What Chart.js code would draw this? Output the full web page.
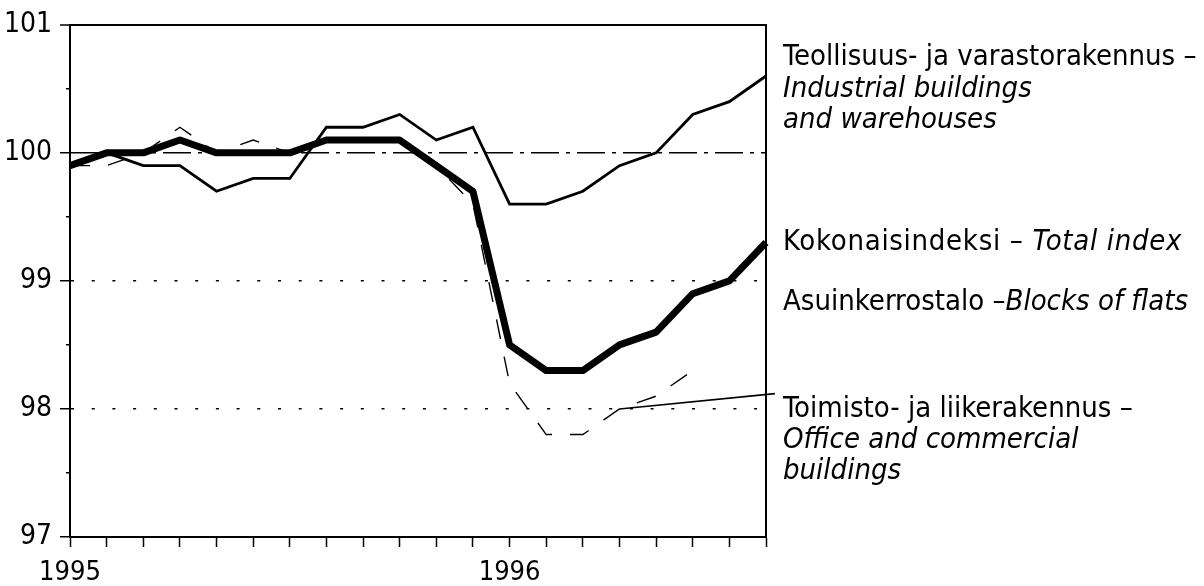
<!DOCTYPE html>
<html>
<head>
<meta charset="utf-8">
<script src="https://cdn.jsdelivr.net/npm/chart.js@4.4.1/dist/chart.umd.min.js"></script>
<style>
  body { margin: 0; background: #fff; }
  #wrap { position: relative; width: 1204px; height: 586px; }
  .lbl {
    position: absolute; left: 783px; color: #000; white-space: nowrap;
    font-family: 'DejaVu Sans Condensed', 'Liberation Sans Narrow', 'Liberation Sans', sans-serif;
    font-size: 29px; line-height: 31px; letter-spacing: 0;
  }
  .lbl i { font-style: italic; }
</style>
</head>
<body>
<div id="wrap">
  <canvas id="chart" width="1204" height="586"></canvas>
  <div class="lbl" style="top:40px; line-height:31.5px">Teollisuus- ja varastorakennus –<br><i>Industrial buildings</i><br><i>and warehouses</i></div>
  <div class="lbl" style="top:225px; letter-spacing:0.7px">Kokonaisindeksi – <i>Total index</i></div>
  <div class="lbl" style="top:285px">Asuinkerrostalo –<i>Blocks of flats</i></div>
  <div class="lbl" style="top:392px">Toimisto- ja liikerakennus –<br><i>Office and commercial</i><br><i>buildings</i></div>
</div>
<script>
// monthly index, Jan 1995 .. Aug 1996
const months = ['1995-01','1995-02','1995-03','1995-04','1995-05','1995-06','1995-07','1995-08','1995-09','1995-10','1995-11','1995-12',
                '1996-01','1996-02','1996-03','1996-04','1996-05','1996-06','1996-07','1996-08'];
const totalIndex = [99.9, 100.0, 100.0, 100.1, 100.0, 100.0, 100.0, 100.1, 100.1, 100.1, 99.9, 99.7, 98.5, 98.3, 98.3, 98.5, 98.6, 98.9, 99.0, 99.3];
const industrial = [99.9, 100.0, 99.9, 99.9, 99.7, 99.8, 99.8, 100.2, 100.2, 100.3, 100.1, 100.2, 99.6, 99.6, 99.7, 99.9, 100.0, 100.3, 100.4, 100.6];
const blocksOfFlats = [99.9, 100.0, 100.0, 100.1, 100.0, 100.0, 100.0, 100.1, 100.1, 100.1, 99.9, 99.7, 98.5, 98.3, 98.3, 98.5, 98.6, 98.9, 99.0, 99.3];
const office = [99.9, 99.9, 100.0, 100.2, 100.0, 100.1, 100.0, 100.1, 100.1, 100.1, 99.9, 99.6, 98.2, 97.8, 97.8, 98.0, 98.1, 98.3, null, null];
const yMin = 97, yMax = 101, yStep = 0.5;

const tickFont = "'DejaVu Sans Condensed', 'Liberation Sans Narrow', 'Liberation Sans', sans-serif";

// pointer line from the office label to its curve
const leaderLine = {
  id: 'leaderLine',
  afterDatasetsDraw(chart) {
    const { ctx, chartArea, scales: { x, y } } = chart;
    ctx.save();
    ctx.strokeStyle = '#000';
    ctx.lineWidth = 1.6;
    ctx.beginPath();
    ctx.moveTo(x.getPixelForValue(15), y.getPixelForValue(office[15]));
    ctx.lineTo(chartArea.right + 9, y.getPixelForValue(98.12));
    ctx.stroke();
    ctx.restore();
  }
};

const isWhole = v => Math.abs(v - Math.round(v)) < 1e-6;

new Chart(document.getElementById('chart'), {
  type: 'line',
  data: {
    labels: months,
    datasets: [
      { data: totalIndex, borderColor: '#000', borderWidth: 7, order: 0, borderJoinStyle: 'round' },
      { data: industrial, borderColor: '#000', borderWidth: 2.8, order: 1 },
      { data: blocksOfFlats, borderColor: '#000', borderWidth: 1.5, order: 2 },
      { data: office, borderColor: '#000', borderWidth: 1.4, borderDash: [20, 18], order: 3 }
    ]
  },
  options: {
    responsive: false,
    animation: false,
    devicePixelRatio: 1,
    layout: { padding: { left: 0, top: 22, right: 438, bottom: 0 } },
    elements: { point: { radius: 0 }, line: { tension: 0, fill: false } },
    plugins: { legend: { display: false }, tooltip: { enabled: false } },
    scales: {
      x: {
        type: 'category',
        offset: false,
        grid: { drawOnChartArea: false, drawTicks: true, tickLength: 10, tickWidth: 1.5, tickColor: '#000' },
        border: { color: '#000', width: 2 },
        ticks: {
          autoSkip: false, maxRotation: 0, padding: 10, color: '#000',
          font: { family: tickFont, size: 27 },
          callback: (v, i) => months[i].endsWith('-01') ? months[i].slice(0, 4) : ''
        },
        afterFit: s => { s.height = 49; }
      },
      y: {
        min: yMin, max: yMax,
        grid: {
          color: c => (c.tick && isWhole(c.tick.value) && c.tick.value > yMin) ? '#000' : 'rgba(0,0,0,0)',
          lineWidth: c => (c.tick && c.tick.value === yMax) ? 2 : 1.5,
          tickLength: 10, tickWidth: 1.5, tickColor: '#000',
          tickBorderDash: c => (c.tick && !isWhole(c.tick.value)) ? [0, 6, 4, 100] : []
        },
        border: {
          color: '#000', width: 2,
          dash: c => {
            if (!c.tick) return [];
            const v = c.tick.value;
            if (v === 100) return [28, 7, 4, 7];
            if (v === 99 || v === 98) return [3, 17.7];
            return [];
          }
        },
        ticks: {
          stepSize: yStep, padding: 8, color: '#000',
          font: { family: tickFont, size: 28 },
          callback: v => isWhole(v) ? String(Math.round(v)) : ''
        },
        afterFit: s => { s.width = 70; }
      },
      yRight: {
        position: 'right', min: yMin, max: yMax,
        grid: { drawOnChartArea: false, drawTicks: false },
        border: { color: '#000', width: 2 },
        ticks: { display: false },
        afterFit: s => { s.width = 0; }
      }
    }
  },
  plugins: [leaderLine]
});
</script>
</body>
</html>
